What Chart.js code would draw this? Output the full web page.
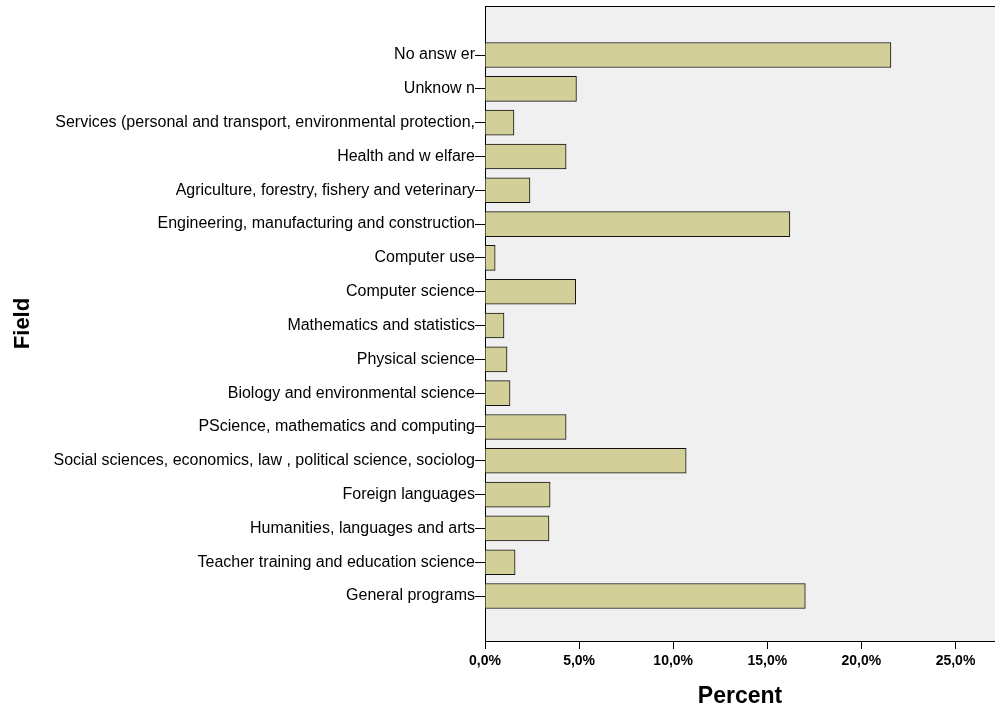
<!DOCTYPE html>
<html>
<head>
<meta charset="utf-8">
<script src="https://cdn.jsdelivr.net/npm/chart.js@4.4.0/dist/chart.umd.min.js"></script>
<style>
  html, body { margin: 0; padding: 0; background: #ffffff; }
  #wrap { width: 995px; height: 710px; }
</style>
</head>
<body>
<div id="wrap"><canvas id="chart"></canvas></div>
<script>
const fields = [
  "No answ er",
  "Unknow n",
  "Services (personal and transport, environmental protection,",
  "Health and w elfare",
  "Agriculture, forestry, fishery and veterinary",
  "Engineering, manufacturing and construction",
  "Computer use",
  "Computer science",
  "Mathematics and statistics",
  "Physical science",
  "Biology and environmental science",
  "PScience, mathematics and computing",
  "Social sciences, economics, law , political science, sociolog",
  "Foreign languages",
  "Humanities, languages and arts",
  "Teacher training and education science",
  "General programs"
];
const percents = [21.57, 4.86, 1.54, 4.31, 2.39, 16.2, 0.54, 4.82, 1.01, 1.17, 1.33, 4.31, 10.69, 3.46, 3.4, 1.6, 17.02];
const xTicks = [0, 5, 10, 15, 20, 25];

// grey plot area + top frame line, drawn before the axes
const plotBg = {
  id: "plotBg",
  beforeDraw(chart) {
    const { ctx, chartArea: a } = chart;
    ctx.save();
    ctx.fillStyle = "#f0f0f0";
    ctx.fillRect(a.left, a.top, a.right - a.left, a.bottom - a.top);
    ctx.strokeStyle = "#000";
    ctx.lineWidth = 1;
    ctx.beginPath();
    ctx.moveTo(a.left, a.top + 0.5);
    ctx.lineTo(a.right, a.top + 0.5);
    ctx.stroke();
    ctx.restore();
  }
};

new Chart(document.getElementById("chart"), {
  type: "bar",
  data: {
    datasets: [{
      data: percents.map((v, i) => ({ x: v, y: i })),
      backgroundColor: "#d3cf98",
      borderColor: "#111",
      borderWidth: 1,
      barThickness: 25
    }]
  },
  options: {
    indexAxis: "y",
    responsive: true,
    maintainAspectRatio: false,
    animation: false,
    layout: { padding: { top: 6, right: 0, left: 10, bottom: 0 } },
    plugins: { legend: { display: false }, tooltip: { enabled: false } },
    scales: {
      x: {
        type: "linear",
        min: 0,
        max: 27.1,
        afterBuildTicks: s => { s.ticks = xTicks.map(v => ({ value: v })); },
        afterFit: s => { s.height = 69; },
        grid: { drawOnChartArea: false, tickLength: 8, color: "#000" },
        border: { color: "#000", width: 1 },
        ticks: {
          color: "#000",
          font: { family: "Liberation Sans, Arial", size: 14, weight: "bold" },
          padding: 4,
          callback: v => v.toFixed(1).replace(".", ",") + "%"
        },
        title: {
          display: true,
          text: "Percent",
          color: "#000",
          font: { family: "Liberation Sans, Arial", size: 23, weight: "bold" },
          padding: { top: 4, bottom: 0 }
        }
      },
      y: {
        type: "linear",
        reverse: true,
        offset: false,
        min: -1.45,
        max: 17.33,
        afterBuildTicks: s => { s.ticks = fields.map((f, i) => ({ value: i })); },
        afterFit: s => { s.width = 475; s.paddingTop = 0; s.paddingBottom = 0; },
        grid: { drawOnChartArea: false, offset: false, tickLength: 10, color: "#000" },
        border: { color: "#000", width: 1 },
        ticks: {
          color: "#000",
          font: { family: "Liberation Sans, Arial", size: 16 },
          padding: 0,
          autoSkip: false,
          callback: v => fields[v] || ""
        },
        title: {
          display: true,
          text: "Field",
          color: "#000",
          font: { family: "Liberation Sans, Arial", size: 22, weight: "bold" },
          padding: { top: 0, bottom: 0 }
        }
      }
    }
  },
  plugins: [plotBg]
});
</script>
</body>
</html>
